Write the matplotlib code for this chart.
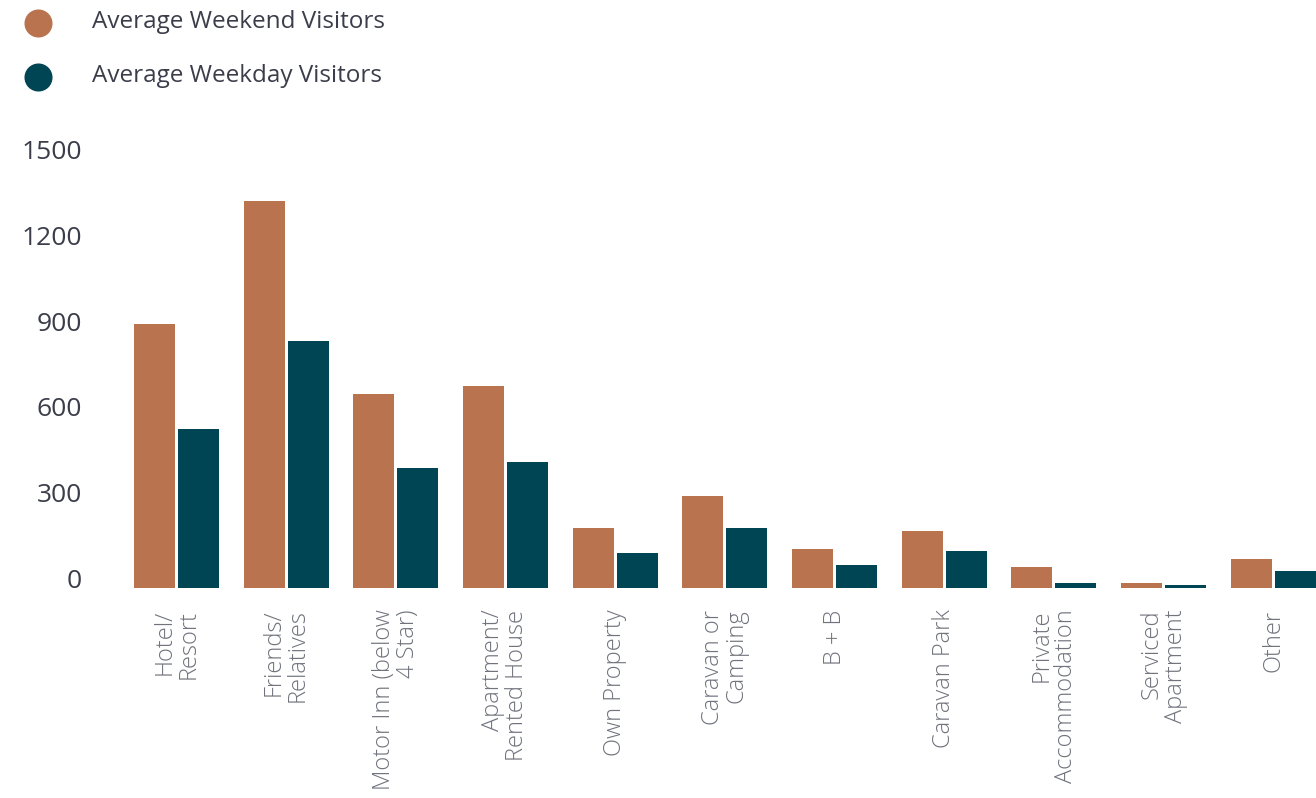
import matplotlib
matplotlib.use('Agg')
import matplotlib.pyplot as plt
from matplotlib.lines import Line2D
import numpy as np

categories = ['Hotel/\nResort', 'Friends/\nRelatives', 'Motor Inn (below\n4 Star)',
              'Apartment/\nRented House', 'Own Property', 'Caravan or\nCamping', 'B + B',
              'Caravan Park', 'Private\nAccommodation', 'Serviced\nApartment', 'Other']
weekend = [923, 1353, 678, 706, 210, 322, 136, 199, 73, 17, 101]
weekday = [556, 864, 420, 441, 122, 210, 80, 129, 18, 10, 59]
yticks = [0, 300, 600, 900, 1200, 1500]

series_names = ['Average Weekend Visitors', 'Average Weekday Visitors']
colors = ['#B9734F', '#004553']
text_color = '#3b3e4a'
xlab_color = '#70737c'

W, H = 1316, 798
fig = plt.figure(figsize=(W / 100, H / 100), dpi=100)
ax = fig.add_axes([121.6 / W, 1 - 588 / H, 1 - 121.6 / W, 429 / H])

x = np.arange(len(categories))
bw = 0.374
ax.bar(x - 0.2, weekend, width=bw, color=colors[0])
ax.bar(x + 0.2, weekday, width=bw, color=colors[1])

ax.set_xlim(-0.5, 10.39)
ax.set_ylim(0, 1500)
for s in ax.spines.values():
    s.set_visible(False)

ax.set_yticks(yticks)
ax.set_yticklabels([str(v) for v in yticks], fontsize=19, color=text_color,
                   family=['Open Sans', 'DejaVu Sans'])
for lab in ax.get_yticklabels():
    lab.set_va('baseline')
ax.tick_params(axis='y', length=0, pad=28.5)

ax.set_xticks(x)
ax.set_xticklabels(categories, rotation=90, ha='center', va='top',
                   multialignment='right', fontsize=17, color=xlab_color,
                   family=['Open Sans', 'DejaVu Sans'], fontweight=300,
                   linespacing=1.0)
ax.tick_params(axis='x', length=0, pad=15.5)

# legend drawn by hand at top left
for i, (name, c) in enumerate(zip(series_names, colors)):
    cy = 23.3 + i * 53.5
    fig.add_artist(Line2D([38 / W], [1 - cy / H], marker='o', markersize=19.2,
                          color=c, linestyle='none', transform=fig.transFigure))
    fig.text(92 / W, 1 - (cy + 5) / H, name, fontsize=17.5, color=text_color,
             family=['Open Sans', 'DejaVu Sans'], va='baseline', ha='left')

fig.savefig('out.png', dpi=100)
